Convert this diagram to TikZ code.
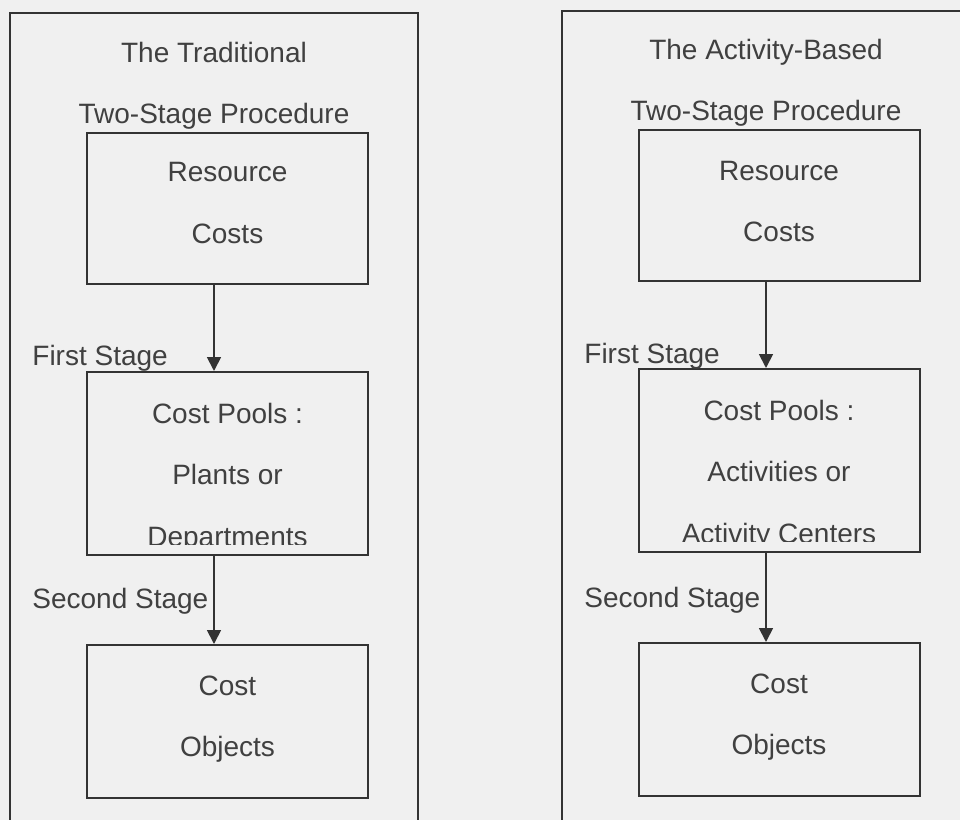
\documentclass[tikz,border=0pt]{standalone}
\usepackage{fontspec}
\setmainfont{Liberation Sans}
\usetikzlibrary{arrows.meta}

\tikzset{
  stagebox/.style={draw=black!80, line width=1pt, minimum width=140.5pt, inner sep=0pt},
  boxtext/.style={text=black!75, align=center, inner sep=0pt, font=\fontsize{14}{30.75}\selectfont},
  stagelabel/.style={text=black!75, anchor=base west, inner sep=0pt, font=\fontsize{14}{17}\selectfont},
  flow/.style={draw=black!80, line width=0.9pt, -{Triangle[width=7pt,length=7pt]}},
}

\begin{document}
\begin{tikzpicture}[x=0.5pt,y=-0.5pt]

\useasboundingbox (0,0) rectangle (960,820);
\fill [black!6] (0,0) rectangle (960,820);
\clip (0,0) rectangle (960,820);

% the two frames run on below the page
\draw [black!80, line width=1pt] (10,13) rectangle (418,840);
\draw [black!80, line width=1pt] (562,11) rectangle (990,840);

% traditional procedure
\node [boxtext] (title1) at (214,86) {The Traditional\\Two-Stage Procedure};

\node [stagebox, minimum height=75.5pt] (res1) at (227.5,208.5) {};
\node [boxtext] (res1txt) at (227.5,203) {Resource\\Costs};

\node [stagebox, minimum height=91.5pt] (pool1) at (227.5,463.5) {};
\begin{scope}
\clip (pool1.north west) rectangle ([yshift=6pt]pool1.south east);
\node [boxtext] (pool1txt) at (227.5,477.5) {Cost Pools :\\Plants or\\Departments};
\end{scope}

\node [stagebox, minimum height=76.5pt] (obj1) at (227.5,721.5) {};
\node [boxtext] (obj1txt) at (227.5,719) {Cost\\Objects};

\draw [flow] ([xshift=-6.75pt]res1.south) -- ([xshift=-6.75pt]pool1.north);
\draw [flow] ([xshift=-6.75pt]pool1.south) -- ([xshift=-6.75pt]obj1.north);

\node [stagelabel] (first1) at (32,365) {First Stage};
\node [stagelabel] (second1) at (32,608) {Second Stage};

% activity-based procedure
\node [boxtext] (title2) at (766,83) {The Activity-Based\\Two-Stage Procedure};

\node [stagebox, minimum height=75.5pt] (res2) at (779,205.5) {};
\node [boxtext] (res2txt) at (779,201.5) {Resource\\Costs};

\node [stagebox, minimum height=91.5pt] (pool2) at (779,460.5) {};
\begin{scope}
\clip (pool2.north west) rectangle ([yshift=6pt]pool2.south east);
\node [boxtext] (pool2txt) at (779,474.5) {Cost Pools :\\Activities or\\Activity Centers};
\end{scope}

\node [stagebox, minimum height=76.5pt] (obj2) at (779,719.5) {};
\node [boxtext] (obj2txt) at (779,717) {Cost\\Objects};

\draw [flow] ([xshift=-6.5pt]res2.south) -- ([xshift=-6.5pt]pool2.north);
\draw [flow] ([xshift=-6.5pt]pool2.south) -- ([xshift=-6.5pt]obj2.north);

\node [stagelabel] (first2) at (584,363) {First Stage};
\node [stagelabel] (second2) at (584,607) {Second Stage};

\end{tikzpicture}
\end{document}
